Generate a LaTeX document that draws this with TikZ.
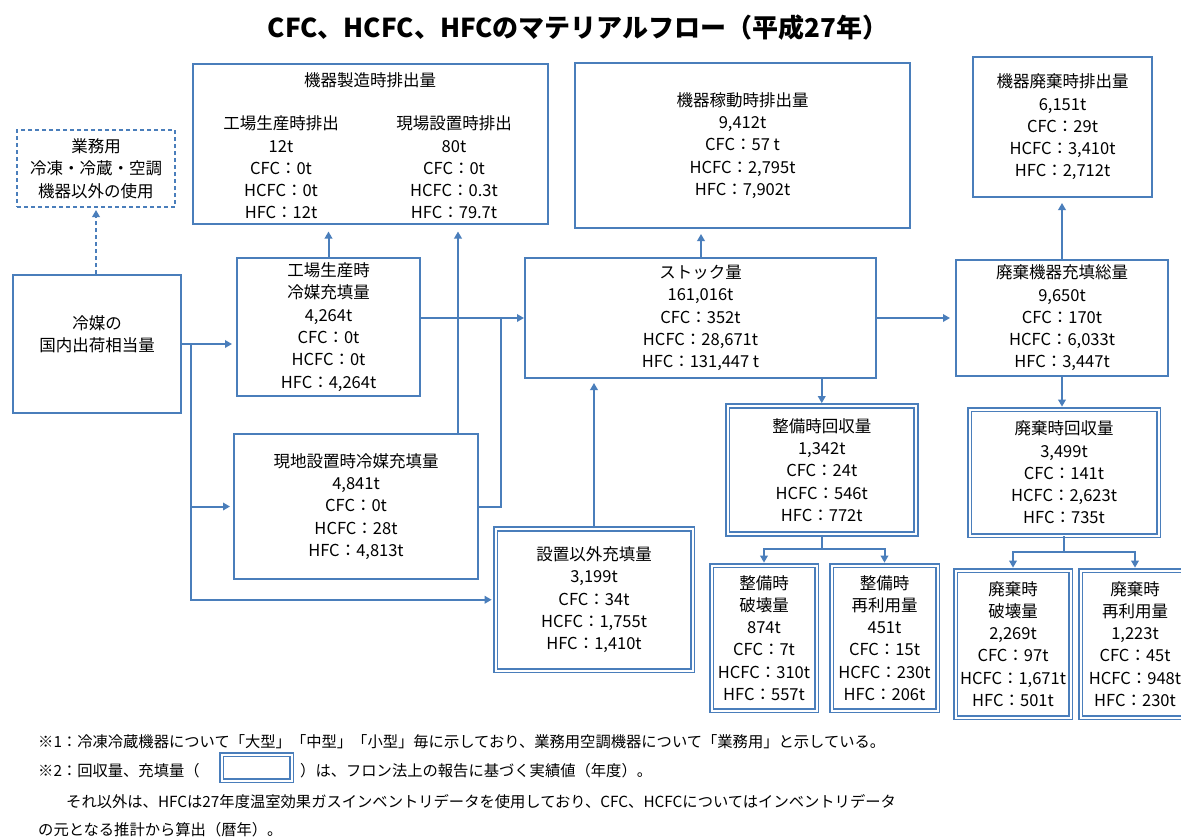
\documentclass[tikz,border=0pt]{standalone}
\usepackage{fontspec}
\setmainfont{Noto Sans CJK JP}
\usetikzlibrary{arrows.meta}
\definecolor{bc}{HTML}{4A7EBB}
\newcommand\bodyfs{\fontsize{16.5}{22.3}\selectfont}
\newcommand\notefs{\fontsize{15.3}{16}\selectfont}
\tikzset{
  box/.style={draw=bc, line width=2pt, inner sep=0pt, align=center, font=\bodyfs},
  dbox/.style={box, line width=1.7pt, double=white, double distance=2pt},
  dashbox/.style={box, dash pattern=on 4pt off 3pt},
  txt/.style={inner sep=0pt, align=center, font=\bodyfs},
  note/.style={inner sep=0pt, anchor=base west, font=\notefs},
  link/.style={draw=bc, line width=2pt},
  arr/.style={link, -{Triangle[width=7.5pt,length=7pt]}},
}
\begin{document}
\begin{tikzpicture}[x=1pt,y=-1pt]
\useasboundingbox (0,0) rectangle (1181,838);
\clip (0,0) rectangle (1181,838);
\fill[white] (0,0) rectangle (1181,838);

\node[inner sep=0pt, font=\bfseries\fontsize{26}{30}\selectfont] (title) at (578,28) {CFC、HCFC、HFCのマテリアルフロー（平成27年）};

% boxes
\node[dashbox, minimum width=158, minimum height=77] (gyomu) at (96,168.5) {業務用\\冷凍・冷蔵・空調\\機器以外の使用};
\node[box, minimum width=168, minimum height=138] (kokunai) at (97,344) {};
\node[txt] (kokunaiT) at (97,334) {冷媒の\\国内出荷相当量};

\node[box, minimum width=355, minimum height=160] (seizo) at (370.5,143.5) {};
\node[txt] (seizoT) at (370,80) {機器製造時排出量};
\node[txt] (seizoA) at (281,167.5) {工場生産時排出\\12t\\CFC：0t\\HCFC：0t\\HFC：12t};
\node[txt] (seizoB) at (454,167.5) {現場設置時排出\\80t\\CFC：0t\\HCFC：0.3t\\HFC：79.7t};

\node[box, minimum width=183, minimum height=138] (kojo) at (328.5,327) {工場生産時\\冷媒充填量\\4,264t\\CFC：0t\\HCFC：0t\\HFC：4,264t};
\node[box, minimum width=244, minimum height=145] (genchi) at (356,506.5) {現地設置時冷媒充填量\\4,841t\\CFC：0t\\HCFC：28t\\HFC：4,813t};
\node[dbox, minimum width=197, minimum height=141.5] (setti) at (594,599.75) {設置以外充填量\\3,199t\\CFC：34t\\HCFC：1,755t\\HFC：1,410t};

\node[box, minimum width=351, minimum height=120] (stock) at (700.5,318) {ストック量\\161,016t\\CFC：352t\\HCFC：28,671t\\HFC：131,447 t};
\node[box, minimum width=335, minimum height=165] (kado) at (742.5,145.5) {機器稼動時排出量\\9,412t\\CFC：57 t\\HCFC：2,795t\\HFC：7,902t};
\node[box, minimum width=179, minimum height=140] (hemit) at (1062.5,127) {機器廃棄時排出量\\6,151t\\CFC：29t\\HCFC：3,410t\\HFC：2,712t};
\node[box, minimum width=212, minimum height=116] (hfill) at (1062,318) {廃棄機器充填総量\\9,650t\\CFC：170t\\HCFC：6,033t\\HFC：3,447t};

\node[dbox, minimum width=188.5, minimum height=128] (sbk) at (821.75,470) {整備時回収量\\1,342t\\CFC：24t\\HCFC：546t\\HFC：772t};
\node[dbox, minimum width=105, minimum height=145] (sbh) at (764,638) {整備時\\破壊量\\874t\\CFC：7t\\HCFC：310t\\HFC：557t};
\node[dbox, minimum width=106, minimum height=145] (sbr) at (884.5,638) {整備時\\再利用量\\451t\\CFC：15t\\HCFC：230t\\HFC：206t};

\node[dbox, minimum width=189, minimum height=126] (hbk) at (1064,472.5) {廃棄時回収量\\3,499t\\CFC：141t\\HCFC：2,623t\\HFC：735t};
\node[dbox, minimum width=115, minimum height=147] (hbh) at (1013,644) {廃棄時\\破壊量\\2,269t\\CFC：97t\\HCFC：1,671t\\HFC：501t};
\node[dbox, minimum width=109, minimum height=147] (hbr) at (1135,644) {廃棄時\\再利用量\\1,223t\\CFC：45t\\HCFC：948t\\HFC：230t};

% connectors
\coordinate (brx) at (191,0);
\coordinate (gx) at (458,0);
\coordinate (jx) at (501,0);
\coordinate (kx) at (701,0);
\draw[arr, dash pattern=on 4pt off 3pt, shorten >=2pt] (gyomu.south |- kokunai.north) -- (gyomu.south);
\draw[arr, shorten >=4pt] (kokunai.east) -- (kokunai.east -| kojo.west);
\draw[arr, shorten >=3pt] (brx |- kokunai.east) |- (setti.west);
\draw[arr, shorten >=3pt] (brx |- genchi.west) -- (genchi.west);
\draw[arr, shorten >=7pt] (kojo.north) -- (kojo.north |- seizo.south);
\draw[arr, shorten >=7pt] (genchi.north -| gx) -- (seizo.south -| gx);
\draw[arr] (kojo.east |- stock.west) -- (stock.west);
\draw[link] (genchi.east) -| (jx |- stock.west);
\draw[arr, shorten >=4pt] (setti.north) -- (setti.north |- stock.south);
\draw[arr, shorten >=5pt] (stock.north -| kx) -- (kado.south -| kx);
\draw[arr, shorten >=5pt] (stock.east) -- (hfill.west);
\draw[arr, shorten >=5pt] (hfill.north) -- (hfill.north |- hemit.south);
\draw[arr, shorten >=2pt] (stock.south -| sbk.north) -- (sbk.north);
\draw[arr, shorten >=2pt] (hfill.south) -- (hfill.south |- hbk.north);
\draw[link] (sbk.south) -- ++(0,14) coordinate (sj);
\draw[arr, shorten >=2pt] (sj) -| (sbh.north);
\draw[arr, shorten >=2pt] (sj) -| (sbr.north);
\draw[link] (hbk.south) -- ++(0,16) coordinate (hj);
\draw[arr, shorten >=2pt] (hj) -| (hbh.north);
\draw[arr, shorten >=2pt] (hj) -| (hbr.north);

% notes
\node[note] (n1) at (38,747) {※1：冷凍冷蔵機器について「大型」「中型」「小型」毎に示しており、業務用空調機器について「業務用」と示している。};
\node[note] (n2a) at (38,776) {※2：回収量、充填量（};
\node[dbox, line width=1.5pt, double distance=2pt, minimum width=70, minimum height=26] (legend) at (256.5,767.5) {};
\node[note] (n2b) at (300,776) {）は、フロン法上の報告に基づく実績値（年度）。};
\node[note] (n3) at (66,807) {それ以外は、HFCは27年度温室効果ガスインベントリデータを使用しており、CFC、HCFCについてはインベントリデータ};
\node[note] (n4) at (38,835) {の元となる推計から算出（暦年）。};
\end{tikzpicture}
\end{document}
